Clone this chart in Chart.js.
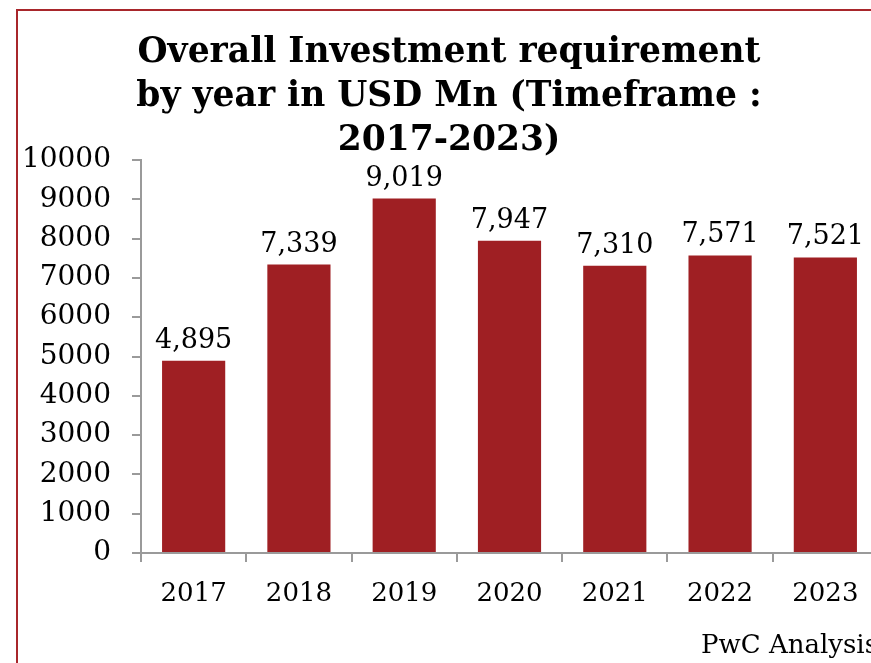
<!DOCTYPE html>
<html>
<head>
<meta charset="utf-8">
<script src="https://cdn.jsdelivr.net/npm/chart.js@4.4.1/dist/chart.umd.min.js"></script>
<style>
  html, body { margin: 0; padding: 0; background: #fff; overflow: hidden; }
  #wrap { position: relative; width: 878px; height: 663px; }
  #frame { position: absolute; left: 16px; top: 9px; right: -10px; bottom: -10px;
           border-top: 2px solid #a8262b; border-left: 2px solid #a8262b; pointer-events: none; }
</style>
</head>
<body>
<div id="wrap">
  <canvas id="chart"></canvas>
  <div id="frame"></div>
</div>
<script>
// Investment requirement per year, USD Mn
const years = ['2017', '2018', '2019', '2020', '2021', '2022', '2023'];
const investment = [4895, 7339, 9019, 7947, 7310, 7571, 7521];
const titleLines = ['Overall Investment requirement', 'by year in USD Mn (Timeframe :', '2017-2023)'];
const sourceNote = 'PwC Analysis';

const SERIF = '"DejaVu Serif", Georgia, serif';
const BAR_RED = '#9f1f23';
const AXIS_GREY = '#9a9a9a';

// Writes each bar's value above it
const valueLabels = {
  id: 'valueLabels',
  afterDatasetsDraw(chart) {
    const ctx = chart.ctx;
    const meta = chart.getDatasetMeta(0);
    ctx.save();
    ctx.font = '27px ' + SERIF;
    ctx.fillStyle = '#000';
    ctx.textAlign = 'center';
    ctx.textBaseline = 'alphabetic';
    meta.data.forEach((bar, i) => {
      ctx.fillText(investment[i].toLocaleString('en-US'), bar.x, bar.y - 13);
    });
    ctx.restore();
  }
};

new Chart(document.getElementById('chart'), {
  type: 'bar',
  data: {
    labels: years,
    datasets: [{
      data: investment,
      backgroundColor: BAR_RED,
      borderWidth: 0,
      categoryPercentage: 0.6,
      barPercentage: 1.0
    }]
  },
  options: {
    responsive: true,
    maintainAspectRatio: false,
    animation: false,
    layout: { padding: { left: 20, right: 0, top: 0, bottom: 0 } },
    plugins: {
      legend: { display: false },
      tooltip: { enabled: false },
      title: {
        display: true,
        text: titleLines,
        color: '#000',
        font: { family: SERIF, size: 34.5, weight: 'bold', lineHeight: '44px' },
        padding: { top: 31, bottom: -3 }
      },
      subtitle: {
        display: true,
        position: 'bottom',
        align: 'end',
        text: sourceNote,
        color: '#000',
        font: { family: SERIF, size: 26, lineHeight: '26px' },
        padding: { top: 0, bottom: 4 }
      }
    },
    scales: {
      x: {
        afterFit(scale) { scale.height = 80; },
        grid: { drawOnChartArea: false, drawTicks: true, tickLength: 9, offset: true, color: AXIS_GREY, lineWidth: 2 },
        border: { color: AXIS_GREY, width: 2 },
        ticks: { color: '#000', font: { family: SERIF, size: 26 }, padding: 17, maxRotation: 0 }
      },
      y: {
        min: 0,
        max: 10000,
        afterFit(scale) { scale.width = 121; },
        grid: { drawOnChartArea: false, drawTicks: true, tickLength: 9, color: AXIS_GREY, lineWidth: 2 },
        border: { color: AXIS_GREY, width: 2 },
        ticks: {
          stepSize: 1000,
          color: '#000',
          font: { family: SERIF, size: 28 },
          padding: 21,
          callback: (v) => String(v)
        }
      }
    }
  },
  plugins: [valueLabels]
});
</script>
</body>
</html>
